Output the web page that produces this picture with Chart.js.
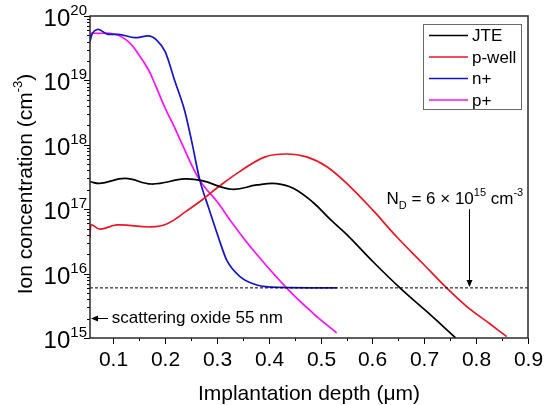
<!DOCTYPE html>
<html><head><meta charset="utf-8">
<script src="https://cdn.jsdelivr.net/npm/chart.js@4.4.0/dist/chart.umd.min.js"></script>
<style>html,body{margin:0;padding:0;background:#fff;}#wrap{width:544px;height:405px;}</style>
</head><body><div id="wrap"><canvas id="c" width="544" height="405"></canvas></div>
<script>
// ---- data ----
const seriesNames = ['JTE', 'p-well', 'n+', 'p+'];

const jteX = [0.055, 0.074, 0.123, 0.174, 0.238, 0.271, 0.329, 0.377, 0.415, 0.448, 0.486, 0.518, 0.551, 0.602, 0.654, 0.705, 0.760];
const jteY = [2.67e17, 2.52e17, 3.0e17, 2.46e17, 2.95e17, 2.77e17, 2.04e17, 2.38e17, 2.5e17, 2.1e17, 1.26e17, 7.0e16, 4.0e16, 1.5e16, 5.9e15, 2.56e15, 1.01e15];

const pwellX = [0.055, 0.057, 0.074, 0.107, 0.173, 0.205, 0.239, 0.271, 0.303, 0.343, 0.393, 0.435, 0.473, 0.512, 0.557, 0.602, 0.647, 0.698, 0.744, 0.782, 0.827, 0.859];
const pwellY = [3.6e16, 5.7e16, 4.9e16, 5.7e16, 5.3e16, 6.0e16, 9.1e16, 1.39e17, 2.23e17, 3.8e17, 6.5e17, 7.2e17, 6.5e17, 4.57e17, 2.23e17, 9.4e16, 3.7e16, 1.41e16, 5.9e15, 3.08e15, 1.65e15, 1.05e15];

const nplusX = [0.055, 0.058, 0.071, 0.090, 0.109, 0.142, 0.167, 0.184, 0.200, 0.219, 0.238, 0.251, 0.267, 0.283, 0.303, 0.319, 0.345, 0.377, 0.422, 0.531];
const nplusY = [4.0e19, 5.0e19, 6.2e19, 5.2e19, 5.2e19, 4.6e19, 4.9e19, 4.2e19, 2.8e19, 9.6e18, 3.3e18, 1.15e18, 2.8e17, 1.1e17, 3.6e16, 1.6e16, 8.9e15, 6.65e15, 6.1e15, 6.0e15];

const pplusX = [0.055, 0.058, 0.065, 0.103, 0.129, 0.148, 0.168, 0.181, 0.200, 0.219, 0.232, 0.267, 0.303, 0.325, 0.370, 0.435, 0.486, 0.531];
const pplusY = [4.0e19, 5.4e19, 5.4e19, 5.2e19, 4.0e19, 2.6e19, 1.45e19, 8.5e18, 3.7e18, 1.8e18, 1.05e18, 2.8e17, 1.23e17, 6.8e16, 2.3e16, 5.9e15, 2.4e15, 1.2e15];

const ndValue = 6e15;               // N_D reference level
const oxideDepth = 0.055;           // scattering oxide, um
const xTickLabels = ['0.1', '0.2', '0.3', '0.4', '0.5', '0.6', '0.7', '0.8', '0.9'];
const yTickExponents = [15, 16, 17, 18, 19, 20];

// ---- styling ----
const colors = ['#000000', '#ee1526', '#1414d0', '#ff10ff'];
const curveTension = [0.4, 0.4, 0, 0.4];
const FONT = '"Liberation Sans", Arial, Helvetica, sans-serif';

function pts(xs, ys) { return xs.map((x, i) => ({ x: x, y: ys[i] })); }
const seriesData = [pts(jteX, jteY), pts(pwellX, pwellY), pts(nplusX, nplusY), pts(pplusX, pplusY)];

const datasets = seriesNames.map((n, i) => {
  const d = {
    label: n, data: seriesData[i], borderColor: colors[i], backgroundColor: colors[i],
    borderWidth: 1.7, pointRadius: 0, showLine: true, fill: false
  };
  if (curveTension[i] > 0) d.tension = curveTension[i];
  else d.cubicInterpolationMode = 'monotone';
  return d;
});
datasets.unshift({
  label: 'ND', data: [{ x: 0.055, y: ndValue }, { x: 0.9, y: ndValue }],
  borderColor: '#000', borderWidth: 1, borderDash: [3, 2], pointRadius: 0, showLine: true, fill: false
});

function drawSupText(ctx, x, y, parts) {
  let cx = x;
  for (const [t, s, dy] of parts) {
    ctx.font = s + 'px ' + FONT;
    ctx.fillText(t, cx, y + dy);
    cx += ctx.measureText(t).width;
  }
  return cx - x;
}
function measureParts(ctx, parts) {
  let w = 0;
  for (const [t, s] of parts) { ctx.font = s + 'px ' + FONT; w += ctx.measureText(t).width; }
  return w;
}
function arrowHead(ctx, x, y, dir) {
  ctx.beginPath();
  if (dir === 'left') { ctx.moveTo(x, y); ctx.lineTo(x + 7, y - 3); ctx.lineTo(x + 7, y + 3); }
  else { ctx.moveTo(x, y); ctx.lineTo(x - 3, y - 7); ctx.lineTo(x + 3, y - 7); }
  ctx.closePath(); ctx.fill();
}

const decor = {
  id: 'decor',
  afterDraw(chart) {
    const { ctx, chartArea: a, scales: { x, y } } = chart;
    ctx.save();
    ctx.fillStyle = '#000'; ctx.strokeStyle = '#000'; ctx.lineWidth = 1;
    // x ticks
    xTickLabels.forEach((lab) => {
      const v = parseFloat(lab);
      const px = Math.round(x.getPixelForValue(v)) + 0.5;
      ctx.beginPath(); ctx.moveTo(px, a.bottom); ctx.lineTo(px, a.bottom + 6); ctx.stroke();
      const m = Math.round(x.getPixelForValue(v - 0.05)) + 0.5;
      if (v - 0.05 > x.min) { ctx.beginPath(); ctx.moveTo(m, a.bottom); ctx.lineTo(m, a.bottom + 3); ctx.stroke(); }
      ctx.font = '21px ' + FONT; ctx.textAlign = 'center'; ctx.textBaseline = 'alphabetic';
      ctx.fillText(lab, px, a.bottom + 28);
    });
    // y ticks
    ctx.textAlign = 'left';
    yTickExponents.forEach((e) => {
      const py = Math.round(y.getPixelForValue(Math.pow(10, e))) + 0.5;
      ctx.beginPath(); ctx.moveTo(a.left - 6, py); ctx.lineTo(a.left, py); ctx.stroke();
      if (e < 20) {
        for (let k = 2; k <= 9; k++) {
          const pm = Math.round(y.getPixelForValue(k * Math.pow(10, e))) + 0.5;
          ctx.beginPath(); ctx.moveTo(a.left - 3, pm); ctx.lineTo(a.left, pm); ctx.stroke();
        }
      }
      const parts = [['10', 24, 0], [String(e), 15, -11]];
      const w = measureParts(ctx, parts);
      drawSupText(ctx, a.left - 3 - w, py + 9, parts);
    });
    // frame
    ctx.strokeStyle = '#2a2a2a'; ctx.lineWidth = 1.5;
    ctx.strokeRect(a.left, a.top, a.right - a.left, a.bottom - a.top);
    // axis titles
    ctx.fillStyle = '#000';
    ctx.font = '21px ' + FONT; ctx.textAlign = 'center'; ctx.textBaseline = 'alphabetic';
    ctx.fillText('Implantation depth (\u03bcm)', (a.left + a.right) / 2, 400);
    ctx.save();
    ctx.translate(32, 184); ctx.rotate(-Math.PI / 2);
    ctx.textAlign = 'left';
    const yt = [['Ion concentration (cm', 21, 0], ['-3', 13, -10], [')', 21, 0]];
    const tw = measureParts(ctx, yt);
    drawSupText(ctx, -tw / 2, 0, yt);
    ctx.restore();
    // legend
    ctx.textAlign = 'left'; ctx.textBaseline = 'middle';
    const lx = a.right - 105, ly = a.top + 8;
    ctx.strokeStyle = '#6a6a6a'; ctx.lineWidth = 1;
    ctx.strokeRect(lx + 0.5, ly + 0.5, 98, 85);
    seriesNames.forEach((n, i) => {
      const ry = ly + 11.5 + i * 21.5;
      ctx.strokeStyle = colors[i]; ctx.lineWidth = 1.7;
      ctx.beginPath(); ctx.moveTo(lx + 6, ry); ctx.lineTo(lx + 45, ry); ctx.stroke();
      ctx.fillStyle = '#000'; ctx.font = '17px ' + FONT;
      ctx.fillText(n, lx + 49, ry + 1);
    });
    // N_D annotation
    ctx.textBaseline = 'alphabetic';
    const ndParts = [['N', 17, 0], ['D', 11, 5], [' = 6 \u00d7 10', 17, 0], ['15', 11, -8], [' cm', 17, 0], ['-3', 11, -8]];
    drawSupText(ctx, x.getPixelForValue(0.627), y.getPixelForValue(1.2e17), ndParts);
    const ax = Math.round(x.getPixelForValue(0.787)) + 0.5;
    const ay0 = y.getPixelForValue(1.0e17), ay1 = y.getPixelForValue(ndValue) - 1;
    ctx.strokeStyle = '#000'; ctx.lineWidth = 1;
    ctx.beginPath(); ctx.moveTo(ax, ay0); ctx.lineTo(ax, ay1 - 5); ctx.stroke();
    arrowHead(ctx, ax, ay1, 'down');
    // scattering oxide annotation
    const sy = Math.round(y.getPixelForValue(2.04e15)) + 0.5;
    const sx0 = x.getPixelForValue(0.0897), sx1 = x.getPixelForValue(oxideDepth) + 1;
    ctx.beginPath(); ctx.moveTo(sx0, sy); ctx.lineTo(sx1 + 5, sy); ctx.stroke();
    arrowHead(ctx, sx1, sy, 'left');
    ctx.font = '17px ' + FONT; ctx.textBaseline = 'middle';
    ctx.fillText('scattering oxide 55 nm', x.getPixelForValue(0.097), sy);
    ctx.restore();
  }
};

new Chart(document.getElementById('c'), {
  type: 'scatter',
  data: { datasets: datasets },
  options: {
    responsive: false, animation: false, devicePixelRatio: 1,
    layout: { padding: { left: 90, top: 16, right: 16, bottom: 67 } },
    plugins: { legend: { display: false }, tooltip: { enabled: false } },
    scales: {
      x: { type: 'linear', min: 0.055, max: 0.9, grid: { display: false, drawTicks: false }, border: { display: false }, ticks: { display: false } },
      y: { type: 'logarithmic', min: 1e15, max: 1e20, grid: { display: false, drawTicks: false }, border: { display: false }, ticks: { display: false } }
    }
  },
  plugins: [decor]
});
</script>
</body></html>
